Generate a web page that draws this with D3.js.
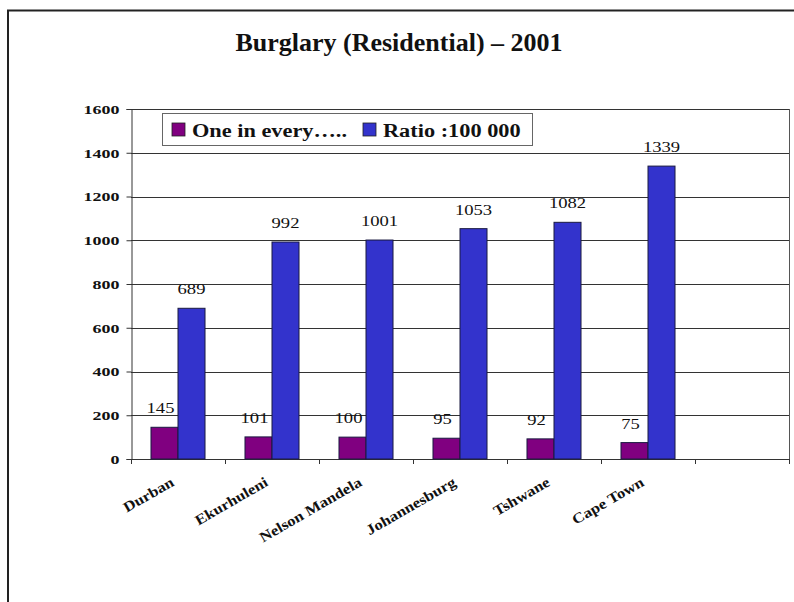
<!DOCTYPE html>
<html>
<head>
<meta charset="utf-8">
<script src="https://cdn.jsdelivr.net/npm/d3@7"></script>
<style>
  html, body { margin: 0; padding: 0; background: #fff; }
  svg { display: block; }
  text { font-family: "Liberation Serif", "Times New Roman", serif; fill: #111; }
</style>
</head>
<body>
<svg id="chart" width="794" height="602"></svg>
<script>
// Burglary (residential) figures per metro, 2001
const categories = ["Durban", "Ekurhuleni", "Nelson Mandela", "Johannesburg", "Tshwane", "Cape Town"];
const seriesNames = ["One in every…..", "Ratio :100 000"];
const oneInEvery = [145, 101, 100, 95, 92, 75];
const ratioPer100k = [689, 992, 1001, 1053, 1082, 1339];
const yTicks = [0, 200, 400, 600, 800, 1000, 1200, 1400, 1600];
const colors = ["#800080", "#3333cc"];

const svg = d3.select("#chart");
const W = 794, H = 602;
const plot = { left: 131, right: 789, top: 109, bottom: 459 };

// stretch a text's glyphs horizontally by factor k
function widen(sel, k) {
  sel.each(function () {
    const w = this.getComputedTextLength();
    d3.select(this).attr("textLength", w * k).attr("lengthAdjust", "spacingAndGlyphs");
  });
}

// outer frame
svg.append("rect")
  .attr("x", 8).attr("y", 10.5)
  .attr("width", W + 20).attr("height", H + 20)
  .attr("fill", "#fff").attr("stroke", "#222").attr("stroke-width", 2);

// title
svg.append("text")
  .attr("x", 399).attr("y", 51)
  .attr("text-anchor", "middle")
  .attr("font-size", 26).attr("font-weight", "bold")
  .text("Burglary (Residential) – 2001")
  .call(widen, 1.0);

// scales: one spare empty slot at the right end of the category axis
const slots = d3.range(categories.length + 1);
const x = d3.scaleBand().domain(slots).range([plot.left, plot.right]).padding(0);
const xs = d3.scaleBand().domain([0, 1]).range([0, x.bandwidth()]).paddingInner(0).paddingOuter(0.74);
const y = d3.scaleLinear().domain([0, 1600]).range([plot.bottom, plot.top]);

// gridlines
svg.append("g")
  .selectAll("line").data(yTicks).join("line")
  .attr("x1", plot.left).attr("x2", plot.right)
  .attr("y1", d => Math.round(y(d)) + 0.5).attr("y2", d => Math.round(y(d)) + 0.5)
  .attr("stroke", "#333").attr("stroke-width", 1);

// plot area right edge
svg.append("line")
  .attr("x1", plot.right + 0.5).attr("x2", plot.right + 0.5)
  .attr("y1", y(1600)).attr("y2", y(0))
  .attr("stroke", "#555");

// y axis
const yAxis = svg.append("g")
  .attr("transform", `translate(${plot.left + 0.5},0)`)
  .call(d3.axisLeft(y).tickValues(yTicks).tickSize(5).tickPadding(7).tickFormat(d3.format("d")));
yAxis.select(".domain").attr("stroke", "#333");
yAxis.selectAll(".tick line").attr("stroke", "#333");
yAxis.selectAll(".tick text")
  .attr("font-family", "Liberation Serif, serif")
  .attr("font-size", 13.5).attr("font-weight", "bold").attr("fill", "#222")
  .call(widen, 1.33);

// x axis with ticks between categories
const xAxis = svg.append("g");
xAxis.append("line")
  .attr("x1", plot.left).attr("x2", plot.right)
  .attr("y1", y(0) + 0.5).attr("y2", y(0) + 0.5)
  .attr("stroke", "#333");
xAxis.selectAll("line.tk").data(slots.concat([slots.length])).join("line")
  .attr("class", "tk")
  .attr("x1", d => Math.round(d < slots.length ? x(d) : plot.right) + 0.5)
  .attr("x2", d => Math.round(d < slots.length ? x(d) : plot.right) + 0.5)
  .attr("y1", y(0)).attr("y2", y(0) + 5)
  .attr("stroke", "#333");
xAxis.selectAll("text").data(categories).join("text")
  .attr("transform", (d, i) => `translate(${x(i) + x.bandwidth() / 2 - 3},${y(0) + 26}) rotate(-30)`)
  .attr("text-anchor", "end")
  .attr("font-size", 14.5).attr("font-weight", "bold")
  .text(d => d)
  .call(widen, 1.15);

// bars
const seriesValues = [oneInEvery, ratioPer100k];
seriesValues.forEach((vals, s) => {
  const g = svg.append("g");
  g.selectAll("rect").data(vals).join("rect")
    .attr("x", (d, i) => x(i) + xs(s))
    .attr("y", d => y(d))
    .attr("width", xs.bandwidth())
    .attr("height", d => y(0) - y(d))
    .attr("fill", colors[s])
    .attr("stroke", "#1a1a40").attr("stroke-width", 1);
  g.selectAll("text").data(vals).join("text")
    .attr("x", (d, i) => x(i) + xs(s) + xs.bandwidth() / 2 - (s === 0 ? 4 : 0))
    .attr("y", d => y(d) - 14)
    .attr("text-anchor", "middle")
    .attr("font-size", 15.5)
    .text(d => d)
    .call(widen, 1.2);
});

// legend
const legend = svg.append("g").attr("transform", "translate(162,113)");
legend.append("rect")
  .attr("x", 0.5).attr("y", 0.5).attr("width", 370).attr("height", 32)
  .attr("fill", "#fff").attr("stroke", "#666");
const legendX = [10, 201];
seriesNames.forEach((name, s) => {
  legend.append("rect")
    .attr("x", legendX[s]).attr("y", 10).attr("width", 13).attr("height", 13)
    .attr("fill", colors[s]).attr("stroke", "#222").attr("stroke-width", 0.8);
  legend.append("text")
    .attr("x", legendX[s] + 20).attr("y", 23.5)
    .attr("font-size", 18).attr("font-weight", "bold")
    .text(name)
    .call(widen, 1.24);
});
</script>
</body>
</html>
